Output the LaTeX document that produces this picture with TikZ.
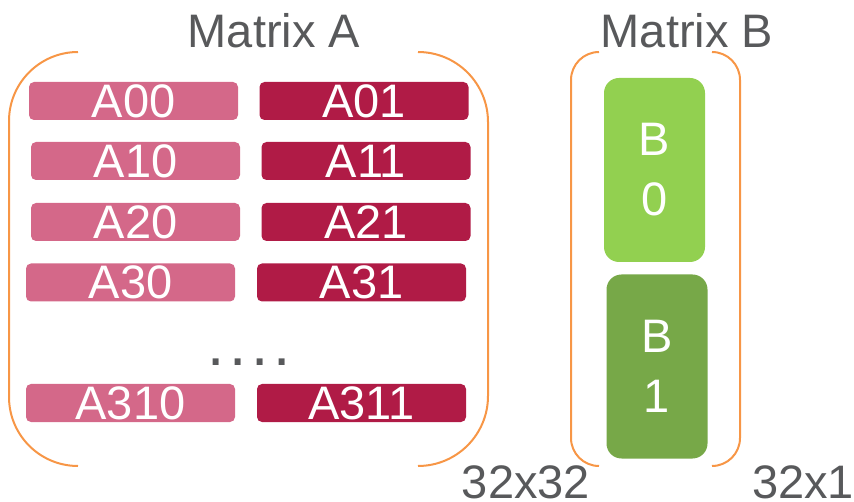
\documentclass[tikz,border=0pt]{standalone}
\usepackage{fontspec}
\setmainfont{Liberation Sans}
\definecolor{rowlight}{RGB}{212,104,137}
\definecolor{rowdark}{RGB}{176,27,70}
\definecolor{vecA}{RGB}{146,208,80}
\definecolor{vecB}{RGB}{119,168,72}
\definecolor{brace}{RGB}{247,150,70}
\definecolor{label}{RGB}{88,89,91}
\tikzset{
  big/.style={font=\fontsize{47}{60}\selectfont},
  rowbox/.style={big, text=white, minimum width=209pt, minimum height=38pt,
    inner sep=0pt, rounded corners=5pt},
  vecbox/.style={big, text=white, minimum width=101pt, minimum height=184pt,
    inner sep=0pt, rounded corners=15pt, align=center},
  caption/.style={big, text=label, anchor=base, inner sep=0pt},
  bracket/.style={draw=brace, line width=2pt}
}
\begin{document}
\begin{tikzpicture}[x=1pt,y=-1pt]
\useasboundingbox (0,0) rectangle (854,502);

% titles and sizes
\node[caption] (titleA) at (274,48) {Matrix A};
\node[caption] (titleB) at (687,48) {Matrix B};
\node[caption] (sizeA) at (526,498) {32x32};
\node[caption] (sizeB) at (803,498) {32x1};

% rows of matrix A
\node[rowbox, fill=rowlight] (a00) at (133.5,101) {A00};
\node[rowbox, fill=rowdark]  (a01) at (364,101) {A01};
\node[rowbox, fill=rowlight] (a10) at (135.5,161) {A10};
\node[rowbox, fill=rowdark]  (a11) at (366,161) {A11};
\node[rowbox, fill=rowlight] (a20) at (135.5,222) {A20};
\node[rowbox, fill=rowdark]  (a21) at (366,222) {A21};
\node[rowbox, fill=rowlight] (a30) at (130.5,282.5) {A30};
\node[rowbox, fill=rowdark]  (a31) at (361.5,282.5) {A31};
\node[rowbox, fill=rowlight] (a310) at (130.5,403) {A310};
\node[rowbox, fill=rowdark]  (a311) at (361.5,403) {A311};

% elided rows
\node[text=label, inner sep=0pt, anchor=base,
  font=\fontsize{62}{62}\selectfont] (dots) at (249,366) {.\kern5pt.\kern5pt.\kern5pt.};

% vector B
\node[vecbox, fill=vecA] (b0) at (654.5,170) {B\\0};
\node[vecbox, fill=vecB] (b1) at (657,366.5) {B\\1};

% brackets
\draw[bracket, rounded corners=69pt] (78,52) -- (9,52) -- (9,466) -- (78,466);
\draw[bracket, rounded corners=70pt] (418,52) -- (488,52) -- (488,466) -- (418,466);
\draw[bracket, rounded corners=28pt] (599,52) -- (571,52) -- (571,466) -- (599,466);
\draw[bracket, rounded corners=28pt] (712,52) -- (740,52) -- (740,466) -- (712,466);
\end{tikzpicture}
\end{document}
